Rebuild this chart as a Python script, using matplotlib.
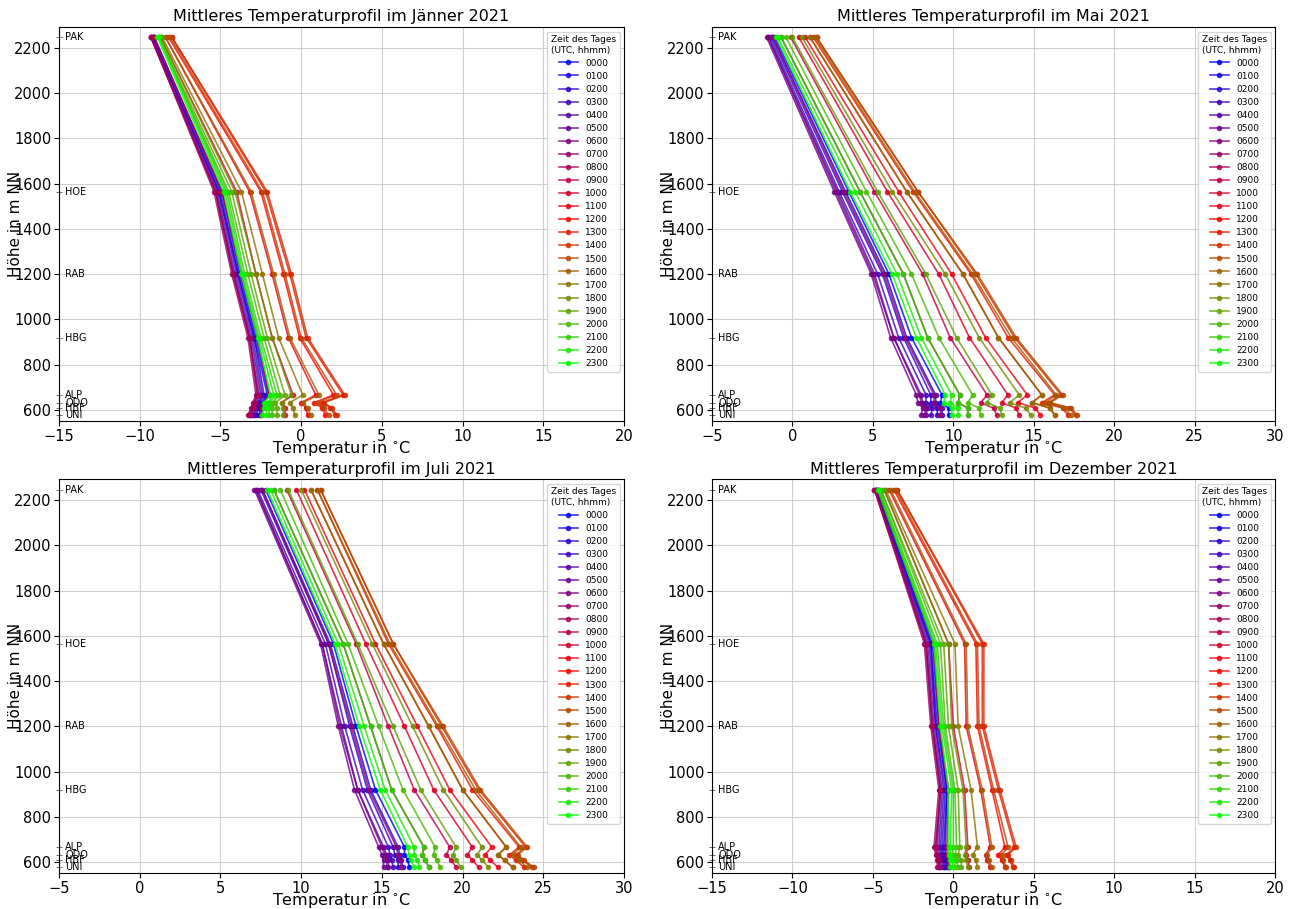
import matplotlib
matplotlib.use('Agg')
import matplotlib.pyplot as plt
import matplotlib.transforms as mtransforms

# Stationen und Höhen (m NN)
stations = ['PAK', 'HOE', 'RAB', 'HBG', 'ALP', 'ODO', 'HBF', 'UNI']
heights = [2247, 1565, 1200, 920, 666, 632, 608, 577]
hours = ['%02d00' % h for h in range(24)]

# Mittlere Temperatur je Stunde (0000..2300 UTC), je Station
jan = {
    'PAK': [-9.1, -9.1, -9.2, -9.2, -9.2, -9.3, -9.3, -9.3, -9.3, -9.1, -8.7, -8.4, -8.2, -8.0, -8.0, -8.1, -8.4, -8.6, -8.7, -8.8, -8.8, -8.8, -8.8, -8.9],
    'HOE': [-4.9, -5.0, -5.1, -5.1, -5.2, -5.3, -5.3, -5.4, -5.3, -4.9, -4.0, -3.2, -2.5, -2.2, -2.1, -2.4, -3.1, -3.7, -4.1, -4.3, -4.5, -4.6, -4.7, -4.8],
    'RAB': [-3.8, -3.9, -3.9, -4.0, -4.1, -4.2, -4.2, -4.3, -4.2, -3.7, -2.8, -1.8, -1.1, -0.7, -0.6, -1.0, -1.7, -2.4, -2.8, -3.1, -3.3, -3.5, -3.6, -3.7],
    'HBG': [-2.8, -2.9, -2.9, -3.0, -3.1, -3.2, -3.2, -3.3, -3.2, -2.7, -1.8, -0.8, -0.1, 0.3, 0.4, 0.0, -0.7, -1.4, -1.8, -2.1, -2.3, -2.5, -2.6, -2.7],
    'ALP': [-2.0, -2.1, -2.3, -2.4, -2.5, -2.6, -2.7, -2.8, -2.7, -2.0, -0.5, 0.9, 2.0, 2.6, 2.7, 2.2, 1.1, 0.1, -0.6, -1.0, -1.3, -1.5, -1.7, -1.9],
    'ODO': [-2.4, -2.5, -2.6, -2.6, -2.7, -2.8, -2.9, -3.0, -2.9, -2.3, -1.2, 0.0, 0.8, 1.3, 1.4, 1.0, 0.1, -0.7, -1.2, -1.6, -1.8, -2.0, -2.1, -2.3],
    'HBF': [-2.4, -2.5, -2.6, -2.7, -2.8, -2.9, -3.0, -3.1, -3.0, -2.4, -1.0, 0.3, 1.3, 1.8, 1.9, 1.4, 0.4, -0.5, -1.1, -1.5, -1.8, -2.0, -2.1, -2.3],
    'UNI': [-2.5, -2.6, -2.8, -2.9, -3.0, -3.1, -3.2, -3.3, -3.2, -2.5, -1.0, 0.4, 1.5, 2.1, 2.2, 1.7, 0.6, -0.4, -1.1, -1.5, -1.8, -2.0, -2.2, -2.4],
}
mai = {
    'PAK': [-1.1, -1.2, -1.3, -1.4, -1.5, -1.6, -1.5, -1.2, -0.7, -0.1, 0.4, 0.8, 1.1, 1.3, 1.5, 1.5, 1.4, 1.1, 0.6, 0.0, -0.4, -0.7, -0.9, -1.0],
    'HOE': [3.5, 3.3, 3.1, 2.9, 2.8, 2.6, 2.7, 3.2, 4.2, 5.1, 5.9, 6.6, 7.1, 7.5, 7.8, 7.8, 7.6, 7.1, 6.2, 5.3, 4.6, 4.2, 3.9, 3.6],
    'RAB': [6.0, 5.8, 5.6, 5.3, 5.1, 4.9, 5.0, 5.7, 6.9, 8.1, 9.1, 9.9, 10.6, 11.1, 11.4, 11.5, 11.2, 10.6, 9.5, 8.3, 7.4, 6.9, 6.5, 6.2],
    'HBG': [7.4, 7.1, 6.9, 6.6, 6.3, 6.1, 6.3, 7.0, 8.4, 9.8, 11.0, 12.0, 12.8, 13.4, 13.8, 13.9, 13.6, 12.8, 11.6, 10.2, 9.1, 8.4, 8.0, 7.7],
    'ALP': [9.3, 8.9, 8.6, 8.3, 8.0, 7.7, 7.9, 8.8, 10.4, 12.1, 13.4, 14.6, 15.5, 16.3, 16.7, 16.8, 16.4, 15.5, 14.1, 12.4, 11.2, 10.4, 9.9, 9.5],
    'ODO': [9.2, 8.9, 8.6, 8.3, 8.1, 7.8, 8.0, 8.8, 10.3, 11.7, 13.0, 14.0, 14.9, 15.5, 15.9, 16.0, 15.7, 14.9, 13.5, 12.1, 10.9, 10.3, 9.8, 9.4],
    'HBF': [9.7, 9.3, 9.0, 8.7, 8.4, 8.1, 8.3, 9.2, 10.9, 12.5, 13.9, 15.1, 16.0, 16.8, 17.2, 17.3, 16.9, 16.0, 14.5, 12.9, 11.6, 10.9, 10.3, 9.9],
    'UNI': [9.7, 9.3, 9.0, 8.6, 8.3, 8.0, 8.2, 9.2, 10.9, 12.7, 14.1, 15.4, 16.3, 17.1, 17.6, 17.7, 17.3, 16.3, 14.8, 13.0, 11.7, 10.9, 10.3, 9.9],
}
juli = {
    'PAK': [7.8, 7.6, 7.5, 7.3, 7.2, 7.1, 7.2, 7.6, 8.3, 9.1, 9.7, 10.2, 10.6, 11.0, 11.2, 11.2, 11.0, 10.6, 10.0, 9.2, 8.7, 8.3, 8.1, 7.9],
    'HOE': [12.0, 11.8, 11.7, 11.5, 11.3, 11.2, 11.3, 11.7, 12.6, 13.4, 14.0, 14.6, 15.1, 15.4, 15.7, 15.7, 15.5, 15.1, 14.4, 13.5, 12.9, 12.6, 12.3, 12.1],
    'RAB': [13.4, 13.2, 13.0, 12.7, 12.5, 12.3, 12.4, 13.1, 14.3, 15.4, 16.4, 17.2, 17.9, 18.4, 18.7, 18.8, 18.5, 17.9, 16.9, 15.7, 14.8, 14.3, 13.9, 13.6],
    'HBG': [14.6, 14.3, 14.1, 13.8, 13.5, 13.3, 13.5, 14.2, 15.6, 17.0, 18.2, 19.2, 20.0, 20.6, 21.0, 21.1, 20.8, 20.0, 18.8, 17.4, 16.3, 15.6, 15.2, 14.9],
    'ALP': [16.4, 16.0, 15.7, 15.4, 15.1, 14.8, 15.0, 15.9, 17.6, 19.2, 20.6, 21.8, 22.7, 23.5, 23.9, 24.0, 23.6, 22.7, 21.2, 19.6, 18.3, 17.6, 17.0, 16.6],
    'ODO': [16.4, 16.1, 15.8, 15.5, 15.3, 15.0, 15.2, 16.0, 17.5, 19.0, 20.3, 21.4, 22.2, 22.9, 23.3, 23.4, 23.1, 22.2, 20.9, 19.4, 18.2, 17.5, 17.0, 16.7],
    'HBF': [16.6, 16.2, 16.0, 15.6, 15.4, 15.1, 15.3, 16.1, 17.7, 19.3, 20.6, 21.7, 22.6, 23.3, 23.7, 23.8, 23.5, 22.6, 21.2, 19.6, 18.4, 17.7, 17.2, 16.8],
    'UNI': [16.7, 16.3, 16.0, 15.7, 15.4, 15.1, 15.3, 16.2, 17.9, 19.6, 21.0, 22.2, 23.1, 23.8, 24.3, 24.4, 24.0, 23.1, 21.6, 19.9, 18.6, 17.9, 17.3, 17.0],
}
dez = {
    'PAK': [-4.7, -4.7, -4.8, -4.8, -4.8, -4.8, -4.9, -4.9, -4.9, -4.7, -4.3, -4.0, -3.7, -3.5, -3.5, -3.6, -3.9, -4.2, -4.3, -4.5, -4.5, -4.6, -4.6, -4.7],
    'HOE': [-1.3, -1.4, -1.4, -1.5, -1.6, -1.7, -1.7, -1.8, -1.7, -1.2, -0.3, 0.7, 1.4, 1.8, 1.9, 1.5, 0.8, 0.1, -0.3, -0.6, -0.8, -1.0, -1.1, -1.2],
    'RAB': [-0.9, -1.0, -1.1, -1.1, -1.2, -1.3, -1.3, -1.4, -1.3, -0.9, 0.0, 0.8, 1.5, 1.8, 1.9, 1.6, 0.9, 0.3, -0.1, -0.3, -0.5, -0.6, -0.7, -0.8],
    'HBG': [-0.4, -0.4, -0.5, -0.6, -0.7, -0.8, -0.8, -0.9, -0.8, -0.3, 0.7, 1.7, 2.4, 2.8, 2.9, 2.5, 1.8, 1.1, 0.6, 0.3, 0.1, 0.0, -0.1, -0.3],
    'ALP': [-0.5, -0.6, -0.7, -0.8, -0.9, -1.0, -1.1, -1.2, -1.1, -0.4, 0.9, 2.3, 3.2, 3.8, 3.9, 3.4, 2.4, 1.5, 0.8, 0.4, 0.2, 0.0, -0.2, -0.3],
    'ODO': [-0.5, -0.6, -0.7, -0.7, -0.8, -0.9, -1.0, -1.1, -1.0, -0.4, 0.8, 2.0, 2.8, 3.3, 3.4, 3.0, 2.1, 1.2, 0.7, 0.3, 0.1, -0.1, -0.2, -0.3],
    'HBF': [-0.4, -0.5, -0.5, -0.6, -0.7, -0.8, -0.9, -1.0, -0.9, -0.3, 0.9, 2.1, 3.0, 3.5, 3.6, 3.1, 2.2, 1.4, 0.8, 0.5, 0.2, 0.1, -0.1, -0.2],
    'UNI': [-0.3, -0.4, -0.5, -0.6, -0.7, -0.8, -0.9, -1.0, -0.9, -0.3, 1.0, 2.3, 3.2, 3.7, 3.8, 3.3, 2.4, 1.5, 0.9, 0.5, 0.3, 0.1, 0.0, -0.2],
}

panels = [
    (jan, 'Jänner', (-15, 20)),
    (mai, 'Mai', (-5, 30)),
    (juli, 'Juli', (-5, 30)),
    (dez, 'Dezember', (-15, 20)),
]


def hour_color(h):
    # blau -> rot (0000..1200), rot -> grün (1200..2300)
    if h <= 12:
        return (h / 12, 0, 1 - h / 12)
    return (1 - (h - 12) / 11, (h - 12) / 11, 0)


fig = plt.figure(figsize=(12.91, 9.09), dpi=100)
# Achsenpositionen [links, unten, breite, höhe]
boxes = [
    [0.0457, 0.5369, 0.4377, 0.4334],
    [0.5515, 0.5369, 0.4362, 0.4334],
    [0.0457, 0.0395, 0.4377, 0.4334],
    [0.5515, 0.0395, 0.4362, 0.4334],
]

for (data, month, xlim), box in zip(panels, boxes):
    ax = fig.add_axes(box)
    for h, lab in enumerate(hours):
        temps = [data[s][h] for s in stations]
        ax.plot(temps, heights, '-o', color=hour_color(h), alpha=0.8,
                lw=1.2, ms=3, label=lab)

    ax.set_xlim(xlim)
    ax.set_ylim(551, 2293)
    ax.set_xticks(range(xlim[0], xlim[1] + 1, 5))
    ax.set_yticks(range(600, 2201, 200))
    ax.tick_params(axis='both', labelsize=10.5, pad=2)
    ax.grid(True, color='#c4c4c4', lw=0.8, alpha=0.8)

    # Stationsnamen an der y-Achse
    ax.set_yticks(heights, minor=True)
    ax.tick_params(axis='y', which='minor', length=4, direction='inout', color='#555555')
    trans = mtransforms.blended_transform_factory(ax.transAxes, ax.transData)
    for s, z in zip(stations, heights):
        ax.text(0.011, z, s, transform=trans, fontsize=7, va='center', ha='left')

    ax.set_title('Mittleres Temperaturprofil im %s 2021' % month, fontsize=11.5, pad=4)
    ax.set_xlabel(r'Temperatur in $^{\circ}$C', fontsize=11.5)
    ax.set_ylabel('Höhe in m NN', fontsize=11)
    ax.xaxis.set_label_coords(0.5, -0.046)
    ax.yaxis.set_label_coords(-0.064, 0.5)
    ax.legend(title='Zeit des Tages\n(UTC, hhmm)', loc='upper right', fontsize=6.5,
              title_fontsize=6.5, labelspacing=0.45, handlelength=2.1, borderpad=0.4)

plt.savefig('out.png', dpi=100)
